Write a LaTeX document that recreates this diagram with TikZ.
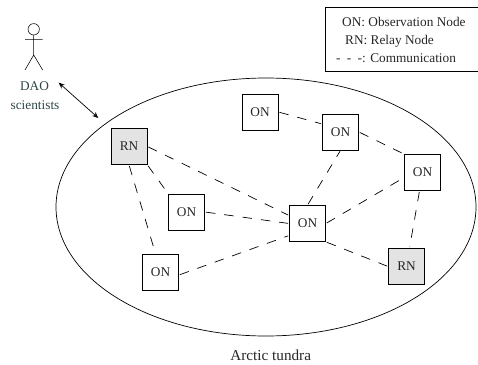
\documentclass[tikz,border=0pt]{standalone}
\usepackage{fontspec}
\setmainfont{Liberation Serif}
\usetikzlibrary{arrows.meta,shapes.geometric}
\definecolor{daotext}{RGB}{45,70,70}
\tikzset{
  netnode/.style={draw,line width=0.8pt,minimum size=36pt,inner sep=0pt,font=\fontsize{13.3}{15}\selectfont,text=black!85,fill=white},
  onnode/.style={netnode},
  rnnode/.style={netnode,fill=black!11},
  link/.style={line width=0.7pt,dash pattern=on 9.5pt off 9pt,shorten >=1pt,shorten <=1pt},
  txt/.style={font=\fontsize{13.3}{15}\selectfont,inner sep=0pt,text=black!85},
  actor/.style={line width=0.55pt},
}
\begin{document}
\begin{tikzpicture}[x=1pt,y=-1pt]
\useasboundingbox (0,0) rectangle (478,364);
% field
\node[draw,ellipse,line width=0.7pt,minimum width=420pt,minimum height=258pt,inner sep=0pt] (field) at (266,207) {};
% nodes
\node[rnnode] (r1) at (129,146.5) {RN};
\node[rnnode] (r2) at (406.5,266.5) {RN};
\node[onnode] (a) at (260,112) {ON};
\node[onnode] (b) at (340.5,132) {ON};
\node[onnode] (c) at (422.5,172.5) {ON};
\node[onnode] (d) at (186.5,212) {ON};
\node[onnode] (e) at (307.5,223.5) {ON};
\node[onnode] (f) at (160.5,272) {ON};
% links
\draw[link] (r1.east) -- ([yshift=8pt]e.west);
\draw[link] (r1.south east) -- (d.north west);
\draw[link] (r1.south) -- ([xshift=-5pt]f.north);
\draw[link] (d.east) -- (e.west);
\draw[link] ([yshift=-3pt]f.east) -- ([yshift=-12pt]e.west);
\draw[link] (a.east) -- ([yshift=8pt]b.west);
\draw[link] (e.north) -- (b.south);
\draw[link] (b.east) -- (c.north west);
\draw[link] (e.east) -- ([yshift=-5pt]c.west);
\draw[link] ([xshift=-3pt]c.south) -- ([xshift=3pt]r2.north);
\draw[link] (e.south east) -- (r2.west);
% actor
\coordinate (head) at (33.7,29.3);
\draw[actor] (head) circle (5.7pt);
\coordinate (neck) at (33.7,35);
\coordinate (hip) at (33.7,55);
\coordinate (armL) at (25,39.3);
\coordinate (armR) at (42.7,39.3);
\coordinate (footL) at (25,70);
\coordinate (footR) at (42.7,70);
\draw[actor] (neck) -- (hip) (armL) -- (armR) (footL) -- (hip) -- (footR);
\node[txt,text=daotext] (dao1) at (34.5,86.5) {DAO};
\node[txt,text=daotext] (dao2) at (35,105) {scientists};
% arrow
\coordinate (arrA) at (58.7,82.7);
\coordinate (arrB) at (98.3,118);
\draw[{Stealth[length=6pt,width=5pt]}-{Stealth[length=6pt,width=5pt]},line width=0.7pt] (arrA) -- (arrB);
% legend
\node[draw,line width=0.7pt,minimum width=153pt,minimum height=64pt,inner sep=0pt] (legend) at (401.5,39) {};
\node[txt,anchor=base west] (l1) at (342,26) {ON: Observation Node};
\node[txt,anchor=base west] (l2) at (345,44) {RN: Relay Node};
\node[txt,anchor=base west] (l3) at (336,62) {- \hspace{3pt}- \hspace{3pt}-: Communication};
% caption
\node[txt,font=\fontsize{15.2}{17}\selectfont] (cap) at (270.7,355) {Arctic tundra};
\end{tikzpicture}
\end{document}
